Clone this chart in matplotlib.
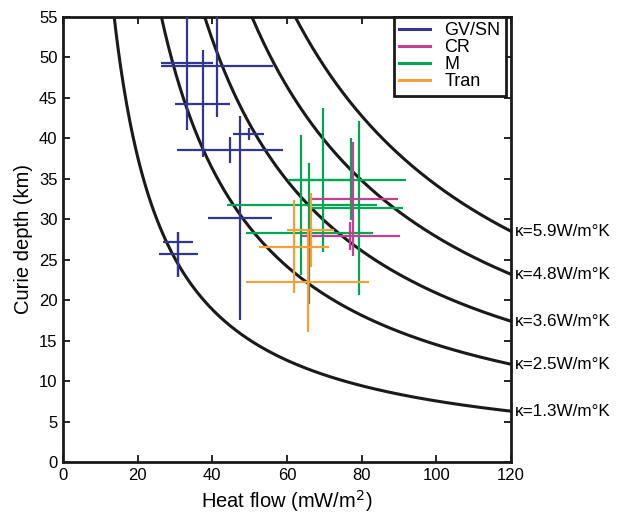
import numpy as np
import matplotlib
matplotlib.use("Agg")
import matplotlib.pyplot as plt

plt.rcParams['font.family'] = ['Liberation Sans', 'DejaVu Sans']

# Conductivity curves: Curie depth = kappa * T_curie / heat flow
kappas = [1.3, 2.5, 3.6, 4.8, 5.9]
curie_temp = 580.0  # degC

# GV/SN
gv_q = [33.1, 41.2, 37.4, 44.7, 49.8, 47.4, 30.9, 30.9]
gv_q_lo = [26.3, 26.3, 30.0, 30.5, 45.5, 38.8, 26.8, 25.7]
gv_q_hi = [40.2, 56.3, 44.7, 59.0, 53.8, 56.0, 34.8, 36.2]
gv_z = [49.3, 49.0, 44.3, 38.6, 40.5, 30.1, 27.2, 25.7]
gv_z_lo = [41.0, 42.7, 37.7, 37.0, 39.8, 17.5, 22.9, 22.9]
gv_z_hi = [57.5, 56.0, 50.9, 40.2, 41.3, 42.8, 28.4, 28.4]

# CR
cr_q = [77.7, 76.9]
cr_q_lo = [66.6, 63.9]
cr_q_hi = [89.6, 90.3]
cr_z = [32.5, 27.9]
cr_z_lo = [25.5, 26.2]
cr_z_hi = [39.6, 29.7]

# M
m_q = [77.2, 63.8, 79.4, 66.0, 69.7]
m_q_lo = [60.3, 43.9, 66.6, 49.0, 61.6]
m_q_hi = [91.8, 84.0, 91.2, 83.1, 77.7]
m_z = [34.9, 31.8, 31.4, 28.3, 34.9]
m_z_lo = [29.9, 23.1, 20.6, 19.5, 26.0]
m_z_hi = [40.1, 40.4, 42.1, 37.0, 43.8]

# Tran
t_q = [66.3, 62.0, 65.5]
t_q_lo = [59.9, 52.5, 49.0]
t_q_hi = [72.6, 71.3, 82.0]
t_z = [28.7, 26.6, 22.3]
t_z_lo = [24.1, 20.9, 16.1]
t_z_hi = [33.2, 32.4, 28.5]

groups = [
    ("GV/SN", "#34358f", gv_q, gv_q_lo, gv_q_hi, gv_z, gv_z_lo, gv_z_hi),
    ("CR", "#c2408f", cr_q, cr_q_lo, cr_q_hi, cr_z, cr_z_lo, cr_z_hi),
    ("M", "#00a651", m_q, m_q_lo, m_q_hi, m_z, m_z_lo, m_z_hi),
    ("Tran", "#f2a23c", t_q, t_q_lo, t_q_hi, t_z, t_z_lo, t_z_hi),
]
draw_order = ["GV/SN", "M", "CR", "Tran"]

fig = plt.figure(figsize=(6.19, 5.17), dpi=100)
ax = fig.add_axes([63 / 619, 55 / 517, 448 / 619, 445 / 517])

q = np.linspace(1, 120, 600)
for k in kappas:
    ax.plot(q, k * curie_temp / q, color="#1a1a1a", lw=2.2, zorder=2)
    ax.text(121.0, k * curie_temp / 120, f"\u03ba={k}W/m\u00b0K", fontsize=12.3,
            va="center", ha="left", clip_on=False)

handles = {}
for name in draw_order:
    g = [gg for gg in groups if gg[0] == name][0]
    _, col, xq, xlo, xhi, yz, ylo, yhi = g
    xq = np.array(xq); yz = np.array(yz)
    xerr = [xq - np.array(xlo), np.array(xhi) - xq]
    yerr = [yz - np.array(ylo), np.array(yhi) - yz]
    eb = ax.errorbar(xq, yz, xerr=xerr, yerr=yerr, fmt="none", ecolor=col,
                     elinewidth=1.6, capsize=0, zorder=3)
    handles[name] = plt.Line2D([], [], color=col, lw=2.2)

ax.set_xlim(0, 120)
ax.set_ylim(0, 55)
ax.set_xticks(np.arange(0, 121, 20))
ax.set_yticks(np.arange(0, 56, 5))
ax.tick_params(direction="in", length=5, width=1.2, top=True, right=True,
               labelsize=12, pad=4)
for s in ax.spines.values():
    s.set_linewidth(2.0)
    s.set_color("#1a1a1a")

ax.set_xlabel("Heat flow (mW/m$^{2}$)", fontsize=14.5, labelpad=4)
ax.set_ylabel("Curie depth (km)", fontsize=14.5, labelpad=4)

names = [g[0] for g in groups]
leg = ax.legend([handles[n] for n in names], names, loc="upper right",
                bbox_to_anchor=(0.989, 1.0), borderaxespad=0, fontsize=13,
                labelspacing=0.0, handlelength=1.7, handletextpad=0.8,
                borderpad=0.3, fancybox=False, framealpha=1, edgecolor="#1a1a1a")
leg.get_frame().set_linewidth(2.0)
leg.set_zorder(5)

fig.savefig("out.png", dpi=100)
